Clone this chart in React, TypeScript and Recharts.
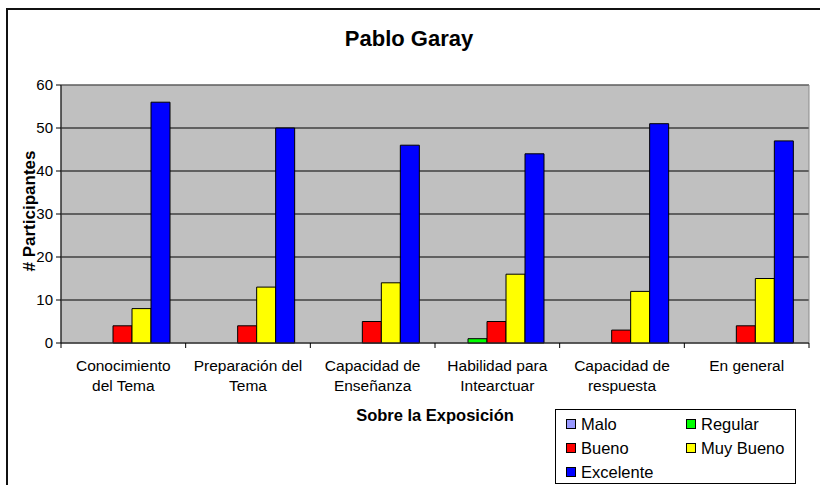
import React from 'react';
import { BarChart, Bar, XAxis, YAxis, CartesianGrid, Legend, ReferenceArea } from 'recharts';

const categories = [
  'Conocimiento del Tema',
  'Preparación del Tema',
  'Capacidad de Enseñanza',
  'Habilidad para Intearctuar',
  'Capacidad de respuesta',
  'En general',
];
const categoryLines = [
  ['Conocimiento', 'del Tema'],
  ['Preparación del', 'Tema'],
  ['Capacidad de', 'Enseñanza'],
  ['Habilidad para', 'Intearctuar'],
  ['Capacidad de', 'respuesta'],
  ['En general'],
];
const malo = [0, 0, 0, 0, 0, 0];
const regular = [0, 0, 0, 1, 0, 0];
const bueno = [4, 4, 5, 5, 3, 4];
const muyBueno = [8, 13, 14, 16, 12, 15];
const excelente = [56, 50, 46, 44, 51, 47];
const yTicks = [0, 10, 20, 30, 40, 50, 60];

const series = [
  { key: 'malo', name: 'Malo', color: '#9999FF' },
  { key: 'regular', name: 'Regular', color: '#00FF00' },
  { key: 'bueno', name: 'Bueno', color: '#FF0000' },
  { key: 'muyBueno', name: 'Muy Bueno', color: '#FFFF00' },
  { key: 'excelente', name: 'Excelente', color: '#0000FF' },
];

const data = categories.map((c, i) => ({
  cat: c,
  malo: malo[i],
  regular: regular[i],
  bueno: bueno[i],
  muyBueno: muyBueno[i],
  excelente: excelente[i],
}));

const FONT = '"Liberation Sans", Arial, sans-serif';

const CHART_W = 820;
const CHART_H = 485;
const MARGIN = { top: 85, right: 11, left: 0, bottom: 112 };
const Y_AXIS_W = 61;
const PLOT_W = CHART_W - MARGIN.left - MARGIN.right - Y_AXIS_W;
const BAND = PLOT_W / categories.length;

const CatTick = (props: any) => {
  const { x, y, payload } = props;
  const idx = payload.index;
  const lines = categoryLines[idx] || [String(payload.value)];
  const isLast = idx === categories.length - 1;
  return (
    <g>
      <line x1={x - BAND / 2} x2={x - BAND / 2} y1={y} y2={y + 5} stroke="#000" />
      {isLast && <line x1={x + BAND / 2} x2={x + BAND / 2} y1={y} y2={y + 5} stroke="#000" />}
      <text x={x} y={y} textAnchor="middle" fontFamily={FONT} fontSize={15.5} fill="#000">
        {lines.map((l, i) => (
          <tspan key={i} x={x} dy={i === 0 ? 28 : 20}>
            {l}
          </tspan>
        ))}
      </text>
    </g>
  );
};

const YLabel = (props: any) => {
  const vb = props.viewBox || { x: 0, y: 85, width: 61, height: 258 };
  const cx = 35;
  const cy = vb.y + vb.height / 2 - 3;
  return (
    <text
      x={cx}
      y={cy}
      transform={`rotate(-90, ${cx}, ${cy})`}
      textAnchor="middle"
      fontFamily={FONT}
      fontSize={17}
      fontWeight="bold"
      fill="#000"
    >
      # Participantes
    </text>
  );
};

const XLabel = (props: any) => {
  const vb = props.viewBox || { x: 61, y: 343, width: 748, height: 30 };
  return (
    <text
      x={vb.x + vb.width / 2}
      y={vb.y + 78}
      textAnchor="middle"
      fontFamily={FONT}
      fontSize={16.5}
      fontWeight="bold"
      fill="#000"
    >
      Sobre la Exposición
    </text>
  );
};

const legendPos = [
  { sx: 11, cy: 14 },
  { sx: 131, cy: 14 },
  { sx: 11, cy: 38 },
  { sx: 131, cy: 38 },
  { sx: 11, cy: 62 },
];

const LegendBox = () => (
  <div
    style={{
      position: 'relative',
      width: 241,
      height: 75,
      border: '1px solid #000',
      background: '#fff',
      boxSizing: 'border-box',
      fontFamily: FONT,
      fontSize: 16.5,
      color: '#000',
    }}
  >
    {series.map((s, i) => (
      <div key={s.key}>
        <div
          style={{
            position: 'absolute',
            left: legendPos[i].sx - 1,
            top: legendPos[i].cy - 5,
            width: 8,
            height: 8,
            background: s.color,
            border: '1px solid #000',
          }}
        />
        <div
          style={{
            position: 'absolute',
            left: legendPos[i].sx + 14,
            top: legendPos[i].cy - 10,
            lineHeight: '20px',
            whiteSpace: 'nowrap',
          }}
        >
          {s.name}
        </div>
      </div>
    ))}
  </div>
);

export default function App() {
  return (
    <div
      style={{
        position: 'absolute',
        left: 0,
        top: 0,
        width: CHART_W,
        height: CHART_H,
        overflow: 'hidden',
        background: '#fff',
      }}
    >
      <div
        style={{
          position: 'absolute',
          left: 6,
          top: 8,
          width: 900,
          height: 600,
          border: '2px solid #111',
        }}
      />
      <div
        style={{
          position: 'absolute',
          left: 0,
          width: 818,
          top: 28,
          textAlign: 'center',
          fontFamily: FONT,
          fontWeight: 'bold',
          fontSize: 22,
          lineHeight: '22px',
          color: '#000',
        }}
      >
        Pablo Garay
      </div>
      <div style={{ position: 'absolute', left: 0, top: 0 }}>
        <BarChart
          width={CHART_W}
          height={CHART_H}
          data={data}
          margin={MARGIN}
          barCategoryGap={14}
          barGap={0}
        >
          <CartesianGrid
            vertical={false}
            fill="#C0C0C0"
            fillOpacity={1}
            stroke="#000"
            strokeWidth={1}
            yAxisId="y"
            xAxisId="cat"
          />
          <XAxis
            xAxisId="cat"
            dataKey="cat"
            height={30}
            tickLine={false}
            tickSize={0}
            tickMargin={0}
            axisLine={{ stroke: '#333' }}
            tick={<CatTick />}
            interval={0}
            label={<XLabel />}
          />
          <YAxis
            yAxisId="y"
            width={Y_AXIS_W}
            domain={[0, 60]}
            ticks={yTicks}
            interval={0}
            tickSize={5}
            tickMargin={3}
            axisLine={{ stroke: '#000' }}
            tickLine={{ stroke: '#000' }}
            tick={{ fill: '#000', fontSize: 15, fontFamily: FONT }}
            label={<YLabel />}
          />
          <ReferenceArea
            xAxisId="cat"
            yAxisId="y"
            y1={0}
            y2={60}
            fill="none"
            stroke="#8a8a8a"
            strokeWidth={1}
            ifOverflow="visible"
          />
          {series.map((s) => (
            <Bar
              key={s.key}
              xAxisId="cat"
              yAxisId="y"
              dataKey={s.key}
              name={s.name}
              fill={s.color}
              stroke="#000"
              strokeWidth={1}
              isAnimationActive={false}
            />
          ))}
          <Legend
            layout="horizontal"
            verticalAlign="middle"
            align="center"
            wrapperStyle={{ left: 555, top: 409, width: 241, height: 75 }}
            content={<LegendBox />}
          />
        </BarChart>
      </div>
    </div>
  );
}
